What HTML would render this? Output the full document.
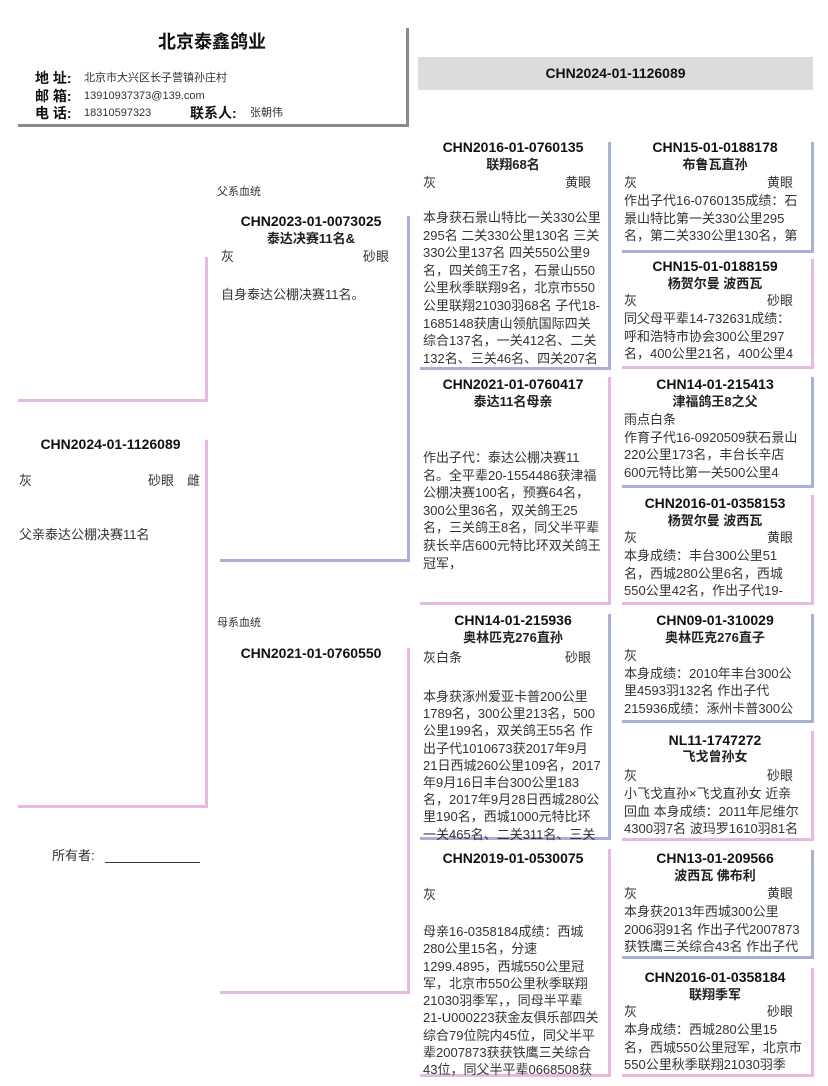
<!DOCTYPE html>
<html><head><meta charset="utf-8">
<style>
html,body{margin:0;padding:0;background:#fff;}
body{width:828px;height:1086px;position:relative;overflow:hidden;font-family:"Liberation Sans","Noto Sans CJK SC",sans-serif;color:#333;}
.t{position:absolute;line-height:18px;white-space:nowrap;font-size:13px;}
.c{text-align:center;}
.id{font-weight:bold;font-size:14px;color:#111;}
.nm{font-weight:bold;font-size:13px;color:#222;}
.bx{position:absolute;box-sizing:border-box;border-right:3px solid;border-bottom:3px solid;overflow:hidden;}
.bl{border-color:#a9b0d8;}
.pk{border-color:#e8b8e4;}
.body{position:absolute;font-size:13px;line-height:17.6px;white-space:nowrap;color:#333;}
.ln{position:absolute;}
</style></head><body>

<!-- header -->
<div class="ln" style="left:18px;top:124px;width:391px;height:3px;background:#8a8a8a"></div>
<div class="ln" style="left:406px;top:28px;width:3px;height:99px;background:#8a8a8a"></div>
<div class="t c" style="left:18px;width:388px;top:31px;font-size:18px;line-height:22px;font-weight:bold;color:#111">北京泰鑫鸽业</div>
<div class="t" style="left:35px;top:69px;font-size:14px;font-weight:bold;color:#111">地 址:</div>
<div class="t" style="left:84px;top:69px;font-size:11px">北京市大兴区长子营镇孙庄村</div>
<div class="t" style="left:35px;top:87px;font-size:14px;font-weight:bold;color:#111">邮 箱:</div>
<div class="t" style="left:84px;top:87px;font-size:11px">13910937373@139.com</div>
<div class="t" style="left:35px;top:104px;font-size:14px;font-weight:bold;color:#111">电 话:</div>
<div class="t" style="left:84px;top:104px;font-size:11px">18310597323</div>
<div class="t" style="left:190px;top:104px;font-size:14px;font-weight:bold;color:#111">联系人:</div>
<div class="t" style="left:250px;top:104px;font-size:11px">张朝伟</div>

<div class="ln" style="left:418px;top:57px;width:395px;height:33px;background:#dcdcdc"></div>
<div class="t c id" style="left:418px;width:395px;top:64px">CHN2024-01-1126089</div>

<!-- left lines -->
<div class="ln" style="left:205px;top:257px;width:3px;height:145px;background:#e8b8e4"></div>
<div class="ln" style="left:18px;top:399px;width:190px;height:3px;background:#e8b8e4"></div>
<div class="ln" style="left:205px;top:440px;width:3px;height:368px;background:#e8b8e4"></div>
<div class="ln" style="left:18px;top:805px;width:190px;height:3px;background:#e8b8e4"></div>

<div class="t c id" style="left:18px;width:185px;top:435px">CHN2024-01-1126089</div>
<div class="t" style="left:19px;top:472px">灰</div>
<div class="t" style="left:148px;top:472px">砂眼</div>
<div class="t" style="left:187px;top:472px">雌</div>
<div class="t" style="left:19px;top:526px">父亲泰达公棚决赛11名</div>

<div class="t" style="left:52px;top:847px">所有者:</div>
<div class="ln" style="left:105px;top:862px;width:95px;height:1px;background:#333"></div>

<!-- father -->
<div class="t" style="left:217px;top:183px;font-size:11px">父系血统</div>
<div class="bx bl" style="left:220px;top:216px;width:190px;height:346px"></div>
<div class="t c id" style="left:220px;width:182px;top:212px">CHN2023-01-0073025</div>
<div class="t c nm" style="left:220px;width:182px;top:230px">泰达决赛11名&amp;</div>
<div class="t" style="left:221px;top:248px">灰</div>
<div class="t" style="left:363px;top:248px">砂眼</div>
<div class="t" style="left:221px;top:286px">自身泰达公棚决赛11名。</div>

<!-- mother -->
<div class="t" style="left:217px;top:614px;font-size:11px">母系血统</div>
<div class="bx pk" style="left:220px;top:648px;width:190px;height:346px"></div>
<div class="t c id" style="left:220px;width:182px;top:644px">CHN2021-01-0760550</div>

<!-- gen2 -->
<div class="bx bl" style="left:420px;top:142px;width:191px;height:228px"></div>
<div class="t c id" style="left:420px;width:186px;top:138px">CHN2016-01-0760135</div>
<div class="t c nm" style="left:420px;width:186px;top:156px">联翔68名</div>
<div class="t" style="left:423px;top:174px">灰</div>
<div class="t" style="left:565px;top:174px">黄眼</div>
<div class="body" style="left:423px;top:209px">本身获石景山特比一关330公里<br>295名 二关330公里130名 三关<br>330公里137名 四关550公里9<br>名，四关鸽王7名，石景山550<br>公里秋季联翔9名，北京市550<br>公里联翔21030羽68名 子代18-<br>1685148获唐山领航国际四关<br>综合137名，一关412名、二关<br>132名、三关46名、四关207名</div>

<div class="bx pk" style="left:420px;top:377px;width:191px;height:228px"></div>
<div class="t c id" style="left:420px;width:186px;top:375px">CHN2021-01-0760417</div>
<div class="t c nm" style="left:420px;width:186px;top:393px">泰达11名母亲</div>
<div class="body" style="left:423px;top:449px">作出子代：泰达公棚决赛11<br>名。全平辈20-1554486获津福<br>公棚决赛100名，预赛64名，<br>300公里36名，双关鸽王25<br>名，三关鸽王8名，同父半平辈<br>获长辛店600元特比环双关鸽王<br>冠军，</div>

<div class="bx bl" style="left:420px;top:614px;width:191px;height:226px"></div>
<div class="t c id" style="left:420px;width:186px;top:611px">CHN14-01-215936</div>
<div class="t c nm" style="left:420px;width:186px;top:629px">奥林匹克276直孙</div>
<div class="t" style="left:423px;top:649px">灰白条</div>
<div class="t" style="left:565px;top:649px">砂眼</div>
<div class="body" style="left:423px;top:688px;line-height:17.2px">本身获涿州爱亚卡普200公里<br>1789名，300公里213名，500<br>公里199名，双关鸽王55名 作<br>出子代1010673获2017年9月<br>21日西城260公里109名，2017<br>年9月16日丰台300公里183<br>名，2017年9月28日西城280公<br>里190名，西城1000元特比环<br>一关465名、二关311名、三关</div>

<div class="bx pk" style="left:420px;top:849px;width:191px;height:228px"></div>
<div class="t c id" style="left:420px;width:186px;top:849px">CHN2019-01-0530075</div>
<div class="t" style="left:423px;top:886px">灰</div>
<div class="body" style="left:423px;top:923px;line-height:17.3px">母亲16-0358184成绩：西城<br>280公里15名，分速<br>1299.4895，西城550公里冠<br>军，北京市550公里秋季联翔<br>21030羽季军，，同母半平辈<br>21-U000223获金友俱乐部四关<br>综合79位院内45位，同父半平<br>辈2007873获获铁鹰三关综合<br>43位，同父半平辈0668508获</div>

<!-- gen3 -->
<div class="bx bl" style="left:622px;top:142px;width:192px;height:111px"></div>
<div class="t c id" style="left:622px;width:186px;top:138px">CHN15-01-0188178</div>
<div class="t c nm" style="left:622px;width:186px;top:156px">布鲁瓦直孙</div>
<div class="t" style="left:624px;top:174px">灰</div><div class="t" style="left:767px;top:174px">黄眼</div>
<div class="body" style="left:624px;top:192px">作出子代16-0760135成绩：石<br>景山特比第一关330公里295<br>名，第二关330公里130名，第</div>

<div class="bx pk" style="left:622px;top:259px;width:192px;height:110px"></div>
<div class="t c id" style="left:622px;width:186px;top:257px">CHN15-01-0188159</div>
<div class="t c nm" style="left:622px;width:186px;top:275px">杨贺尔曼 波西瓦</div>
<div class="t" style="left:624px;top:292px">灰</div><div class="t" style="left:767px;top:292px">砂眼</div>
<div class="body" style="left:624px;top:310px">同父母平辈14-732631成绩：<br>呼和浩特市协会300公里297<br>名，400公里21名，400公里4</div>

<div class="bx bl" style="left:622px;top:377px;width:192px;height:111px"></div>
<div class="t c id" style="left:622px;width:186px;top:375px">CHN14-01-215413</div>
<div class="t c nm" style="left:622px;width:186px;top:393px">津福鸽王8之父</div>
<div class="body" style="left:624px;top:411px">雨点白条<br>作育子代16-0920509获石景山<br>220公里173名，丰台长辛店<br>600元特比第一关500公里4</div>

<div class="bx pk" style="left:622px;top:495px;width:192px;height:110px"></div>
<div class="t c id" style="left:622px;width:186px;top:494px">CHN2016-01-0358153</div>
<div class="t c nm" style="left:622px;width:186px;top:512px">杨贺尔曼 波西瓦</div>
<div class="t" style="left:624px;top:529px">灰</div><div class="t" style="left:767px;top:529px">黄眼</div>
<div class="body" style="left:624px;top:547px">本身成绩：丰台300公里51<br>名，西城280公里6名，西城<br>550公里42名，作出子代19-</div>

<div class="bx bl" style="left:622px;top:614px;width:192px;height:109px"></div>
<div class="t c id" style="left:622px;width:186px;top:611px">CHN09-01-310029</div>
<div class="t c nm" style="left:622px;width:186px;top:629px">奥林匹克276直子</div>
<div class="body" style="left:624px;top:647px">灰<br>本身成绩：2010年丰台300公<br>里4593羽132名 作出子代<br>215936成绩：涿州卡普300公</div>

<div class="bx pk" style="left:622px;top:731px;width:192px;height:110px"></div>
<div class="t c id" style="left:622px;width:186px;top:731px">NL11-1747272</div>
<div class="t c nm" style="left:622px;width:186px;top:748px">飞戈曾孙女</div>
<div class="t" style="left:624px;top:767px">灰</div><div class="t" style="left:767px;top:767px">砂眼</div>
<div class="body" style="left:624px;top:785px">小飞戈直孙×飞戈直孙女 近亲<br>回血 本身成绩：2011年尼维尔<br>4300羽7名 波玛罗1610羽81名</div>

<div class="bx bl" style="left:622px;top:850px;width:192px;height:109px"></div>
<div class="t c id" style="left:622px;width:186px;top:849px">CHN13-01-209566</div>
<div class="t c nm" style="left:622px;width:186px;top:867px">波西瓦 佛布利</div>
<div class="t" style="left:624px;top:885px">灰</div><div class="t" style="left:767px;top:885px">黄眼</div>
<div class="body" style="left:624px;top:903px">本身获2013年西城300公里<br>2006羽91名 作出子代2007873<br>获铁鹰三关综合43名 作出子代</div>

<div class="bx pk" style="left:622px;top:968px;width:192px;height:109px"></div>
<div class="t c id" style="left:622px;width:186px;top:968px">CHN2016-01-0358184</div>
<div class="t c nm" style="left:622px;width:186px;top:986px">联翔季军</div>
<div class="t" style="left:624px;top:1003px">灰</div><div class="t" style="left:767px;top:1003px">砂眼</div>
<div class="body" style="left:624px;top:1021px">本身成绩：西城280公里15<br>名，西城550公里冠军，北京市<br>550公里秋季联翔21030羽季</div>

</body></html>
